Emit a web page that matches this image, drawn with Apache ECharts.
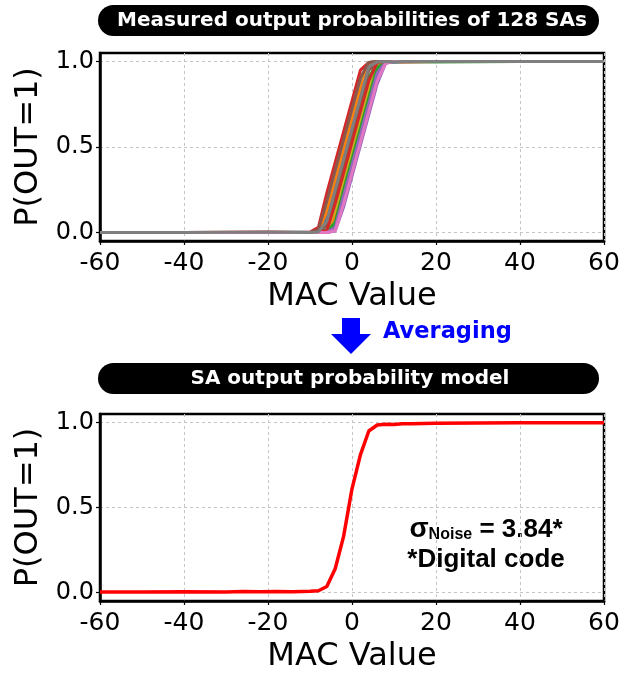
<!DOCTYPE html>
<html><head><meta charset="utf-8">
<script src="https://cdn.jsdelivr.net/npm/echarts@6/dist/echarts.min.js"></script>
<style>html,body{margin:0;padding:0;background:#fff}#c{width:634px;height:674px}</style>
</head><body><div id="c"></div>
<script>
// ---- data ----
const TITLE_TOP = 'Measured output probabilities of 128 SAs';
const TITLE_BOTTOM = 'SA output probability model';
const X_TICKS = [-60, -40, -20, 0, 20, 40, 60];
const Y_TICKS = [0, 0.5, 1.0];
// MAC sample points for the measured SA curves
const MAC_SAMPLES = [-60,-40,-20,-12,-10,-8,-6,-4,-2,0,2,4,6,8,10,12,20,40,60];
// individual SA curves (a representative subset of the 128)
const sa01 = [0,0,0,0, 0,0.003,0.095,0.275,0.455,0.635,0.815,0.985,1,1,0.998,1,1,1,1];
const sa02 = [0,0,0,0, 0,0,0.003,0.095,0.275,0.455,0.635,0.815,0.985,1,1,0.997,1,1,1];
const sa03 = [0,0,0,0, 0,0,0.015,0.185,0.365,0.545,0.725,0.905,0.995,1,1,1,0.998,1,1];
const sa04 = [0,0,0.002,0, 0.002,0.03,0.23,0.41,0.59,0.77,0.95,0.995,1,1,0.998,1,1,1,1];
const sa05 = [0,0,0,0, 0,0,0,0.008,0.149,0.329,0.509,0.689,0.869,0.99,1,1,1,1,1];
const sa06 = [0,0,0,0, 0,0,0.04,0.23,0.41,0.59,0.77,0.95,0.995,1,1,0.998,1,1,1];
const sa07 = [0,0,0,0, 0,0,0,0.012,0.185,0.365,0.545,0.725,0.905,0.995,1,1,1,1,1];
const sa08 = [0,0,0,0.002, 0,0.008,0.14,0.32,0.5,0.68,0.86,0.99,1,1,1,1,1,1,1];
const sa09 = [0,0,0,0, 0,0,0.008,0.14,0.32,0.5,0.68,0.86,0.99,1,1,1,1,1,1];
const sa10 = [0,0,0,0, 0,0.01,0.167,0.347,0.527,0.707,0.887,0.995,1,1,0.998,1,1,1,1];
const sa11 = [0,0,0,0, 0,0,0,0.04,0.23,0.41,0.59,0.77,0.95,0.995,1,1,1,1,1];
const sa12 = [0,0,0,0, 0,0.005,0.122,0.302,0.482,0.662,0.842,0.99,1,1,1,1,1,1,1];
const sa13 = [0,0,0,0, 0,0,0.002,0.06,0.248,0.428,0.608,0.788,0.965,0.998,1,1,1,1,1];
const sa14 = [0,0,0,0, 0,0,0.01,0.167,0.347,0.527,0.707,0.887,0.995,1,1,1,1,1,1];
const sa15 = [0,0,0,0, 0,0,0,0.03,0.212,0.392,0.572,0.752,0.932,0.995,1,1,1,1,1];
const sa16 = [0,0,0,0, 0,0.015,0.185,0.365,0.545,0.725,0.905,0.995,1,1,1,1,1,1,1];
const sa17 = [0,0,0,0, 0,0,0,0.01,0.167,0.347,0.527,0.707,0.887,0.99,1,1,1,1,1];
const sa18 = [0,0,0.002,0, 0,0.003,0.065,0.248,0.428,0.608,0.788,0.968,0.998,1,0.998,1,1,1,1];
const SA_CURVES = [sa01,sa02,sa03,sa04,sa05,sa06,sa07,sa08,sa09,sa10,sa11,sa12,sa13,sa14,sa15,sa16,sa17,sa18];
const SA_COLORS = ['#1f77b4','#ff7f0e','#2ca02c','#d62728','#9467bd','#8c564b','#e377c2','#7f7f7f','#bcbd22','#17becf'];
// averaged model
const MAC_AVG = [-60,-50,-40,-30,-26,-22,-18,-14,-12,-10,-8,-6,-4,-2,0,2,4,6,8,10,12,14,20,30,40,50,60];
const P_AVG   = [0.003,0.003,0.004,0.003,0.006,0.004,0.006,0.005,0.006,0.007,0.01,0.035,0.14,0.33,0.61,0.81,0.95,0.985,0.99,0.988,0.993,0.992,0.995,0.997,0.998,0.998,0.998];

// ---- chart ----
const chart = echarts.init(document.getElementById('c'), null, {renderer: 'canvas'});
const AX_FONT = 'DejaVu Sans';
function xAxisFor(gi) {
  return {
    gridIndex: gi, type: 'value', min: -60, max: 60, interval: 20,
    axisLine: {show: true, onZero: false, lineStyle: {color: '#000', width: 2.5}},
    axisTick: {show: true, length: 4, lineStyle: {color: '#000', width: 1.2}},
    axisLabel: {show: true, fontFamily: AX_FONT, fontSize: 25, color: '#000', margin: 10,
                showMinLabel: true, showMaxLabel: true},
    splitLine: {show: true, lineStyle: {color: '#c4c4c4', width: 1, type: [3, 3]}},
    name: 'MAC Value', nameLocation: 'middle', nameGap: 40, nameMoveOverlap: false,
    nameTextStyle: {fontFamily: AX_FONT, fontSize: 32, color: '#000'}
  };
}
function yAxisFor(gi) {
  return {
    gridIndex: gi, type: 'value', min: -0.05, max: 1.05,
    axisLine: {show: true, onZero: false, lineStyle: {color: '#000', width: 2.5}},
    axisTick: {show: true, length: 4, customValues: Y_TICKS, lineStyle: {color: '#000', width: 1.2}},
    axisLabel: {show: true, customValues: Y_TICKS, fontFamily: AX_FONT, fontSize: 24, color: '#000', margin: 6,
                formatter: v => v.toFixed(1)},
    splitLine: {show: true, lineStyle: {color: '#c4c4c4', width: 1, type: [3, 3]}},
    name: 'P(OUT=1)', nameLocation: 'middle', nameRotate: 90, nameGap: 55, nameMoveOverlap: false,
    nameTextStyle: {fontFamily: AX_FONT, fontSize: 32, color: '#000'}
  };
}
const series = SA_CURVES.map((vals, i) => ({
  type: 'line', xAxisIndex: 0, yAxisIndex: 0, showSymbol: false, silent: true,
  data: MAC_SAMPLES.map((x, k) => [x, vals[k]]),
  lineStyle: {color: SA_COLORS[i % SA_COLORS.length], width: 3}
}));
series.push({
  type: 'line', xAxisIndex: 1, yAxisIndex: 1, showSymbol: false, silent: true,
  data: MAC_AVG.map((x, k) => [x, P_AVG[k]]),
  lineStyle: {color: '#ff0000', width: 3.5}
});

const TITLE_FONT = 'DejaVu Sans';
const option = {
  animation: false,
  backgroundColor: '#fff',
  grid: [
    {left: 100, top: 53, width: 504, height: 188, show: true, borderColor: '#000', borderWidth: 2.5, outerBoundsMode: 'none'},
    {left: 100, top: 414, width: 504, height: 187, show: true, borderColor: '#000', borderWidth: 2.5, outerBoundsMode: 'none'}
  ],
  xAxis: [xAxisFor(0), xAxisFor(1)],
  yAxis: [yAxisFor(0), yAxisFor(1)],
  series: series,
  graphic: [
    {type: 'rect', shape: {x: 98, y: 5, width: 501, height: 31, r: 15.5}, style: {fill: '#000'}},
    {type: 'text', x: 352, y: 21, style: {text: TITLE_TOP, fill: '#fff', align: 'center', verticalAlign: 'middle',
      fontFamily: TITLE_FONT, fontWeight: 'bold', fontSize: 20}},
    {type: 'rect', shape: {x: 98, y: 363, width: 501, height: 31, r: 15.5}, style: {fill: '#000'}},
    {type: 'text', x: 350, y: 379, style: {text: TITLE_BOTTOM, fill: '#fff', align: 'center', verticalAlign: 'middle',
      fontFamily: TITLE_FONT, fontWeight: 'bold', fontSize: 20}},
    {type: 'polygon', shape: {points: [[342,318],[360,318],[360,334],[371,334],[351,354],[331,334],[342,334]]},
      style: {fill: '#0000ff'}},
    {type: 'text', x: 383, y: 332, style: {text: 'Averaging', fill: '#0000ff', align: 'left', verticalAlign: 'middle',
      fontFamily: TITLE_FONT, fontWeight: 'bold', fontSize: 22.5}},
    {type: 'text', x: 486, y: 543, style: {
      text: '{s|σ}{sub|Noise}{m| = 3.84*}\n{m|*Digital code}',
      align: 'center', verticalAlign: 'middle', fill: '#000',
      rich: {
        s: {fontFamily: 'Liberation Sans', fontWeight: 'bold', fontSize: 28, lineHeight: 30, verticalAlign: 'bottom'},
        sub: {fontFamily: 'Liberation Sans', fontWeight: 'bold', fontSize: 16, lineHeight: 16, verticalAlign: 'bottom'},
        m: {fontFamily: 'Liberation Sans', fontWeight: 'bold', fontSize: 26, lineHeight: 30, verticalAlign: 'bottom'}
      }}}
  ]
};
chart.setOption(option);
</script>
</body></html>
